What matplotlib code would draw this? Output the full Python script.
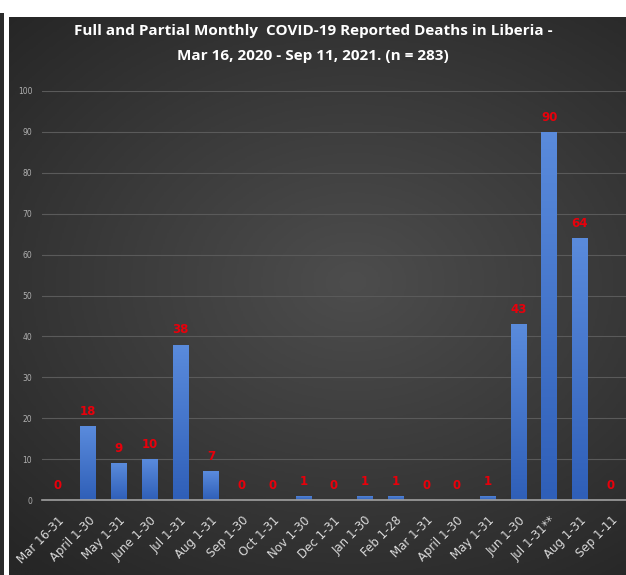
import numpy as np
import matplotlib.pyplot as plt
from matplotlib.colors import LinearSegmentedColormap

categories = ['Mar 16-31', 'April 1-30', 'May 1-31', 'June 1-30', 'Jul 1-31',
              'Aug 1-31', 'Sep 1-30', 'Oct 1-31', 'Nov 1-30', 'Dec 1-31',
              'Jan 1-30', 'Feb 1-28', 'Mar 1-31', 'April 1-30', 'May 1-31',
              'Jun 1-30', 'Jul 1-31**', 'Aug 1-31', 'Sep 1-11']
deaths = [0, 18, 9, 10, 38, 7, 0, 0, 1, 0, 1, 1, 0, 0, 1, 43, 90, 64, 0]
y_ticks = [0, 10, 20, 30, 40, 50, 60, 70, 80, 90, 100]

W, H = 626, 575
fig = plt.figure(figsize=(W / 100, H / 100), dpi=100, facecolor='white')

# dark radial background panel
bg = fig.add_axes([9 / W, 0, 1, (H - 17) / H])
yy, xx = np.mgrid[-1:1:300j, -1:1:300j]
r = np.sqrt(((xx - 0.1) * 0.85) ** 2 + (yy + 0.05) ** 2)
bg_cmap = LinearSegmentedColormap.from_list('bg', ['#4d4d4d', '#3a3a3a', '#262626'])
bg.imshow(r, cmap=bg_cmap, vmin=0, vmax=1.35, aspect='auto', extent=[0, 1, 0, 1])
bg.set_xlim(0, 1)
bg.set_ylim(0, 1)
bg.set_axis_off()
strip = fig.add_axes([0, 0, 4 / W, (H - 13) / H])
strip.set_facecolor('#2b2b2b')
strip.set_xticks([])
strip.set_yticks([])
for s in strip.spines.values():
    s.set_visible(False)

ax = fig.add_axes([42 / W, 75 / H, (W - 42) / W, 409 / H])
ax.patch.set_alpha(0)
x = np.arange(len(categories))
bars = ax.bar(x, deaths, width=0.5, color='#4576cf', zorder=3)

# vertical gradient on bars
grad = np.linspace(1, 0, 100).reshape(-1, 1)
bar_cmap = LinearSegmentedColormap.from_list('bl', ['#2f5fb8', '#5a8bdc'])
for b in bars:
    h = b.get_height()
    if h <= 0:
        continue
    im = ax.imshow(grad, cmap=bar_cmap, aspect='auto', zorder=3,
                   extent=[b.get_x(), b.get_x() + b.get_width(), 0, h])
    im.set_clip_path(b)

for xi, v in zip(x, deaths):
    ax.annotate(str(v), (xi, v), xytext=(0, 6), textcoords='offset points',
                ha='center', va='bottom', color='#e8000b', fontsize=8.5,
                fontweight='bold', zorder=4)

ax.set_xlim(-0.5, len(categories) - 0.5)
ax.set_ylim(0, 100)
ax.set_yticks(y_ticks)
ax.set_yticklabels(y_ticks, color='#b0b0b0', fontsize=5.5)
ax.set_xticks(x)
ax.set_xticklabels(categories, rotation=45, ha='right', rotation_mode='anchor',
                   color='#d9d9d9', fontsize=8.5)
ax.tick_params(axis='x', length=0, pad=10)
ax.tick_params(axis='y', length=0, pad=7)
ax.grid(axis='y', color='#5a5a5a', linewidth=0.8, zorder=0)
for s in ['top', 'right', 'left']:
    ax.spines[s].set_visible(False)
ax.spines['bottom'].set_color('#a0a0a0')
ax.spines['bottom'].set_linewidth(1.2)
ax.spines['bottom'].set_zorder(5)

fig.text(0.5, 1 - 31 / H, 'Full and Partial Monthly  COVID-19 Reported Deaths in Liberia -',
         ha='center', va='center', color='white', fontsize=11, fontweight='bold',
         family='Open Sans')
fig.text(0.5, 1 - 56 / H, 'Mar 16, 2020 - Sep 11, 2021. (n = 283)',
         ha='center', va='center', color='white', fontsize=11, fontweight='bold',
         family='Open Sans')

fig.savefig('out.png', dpi=100, facecolor='white')
